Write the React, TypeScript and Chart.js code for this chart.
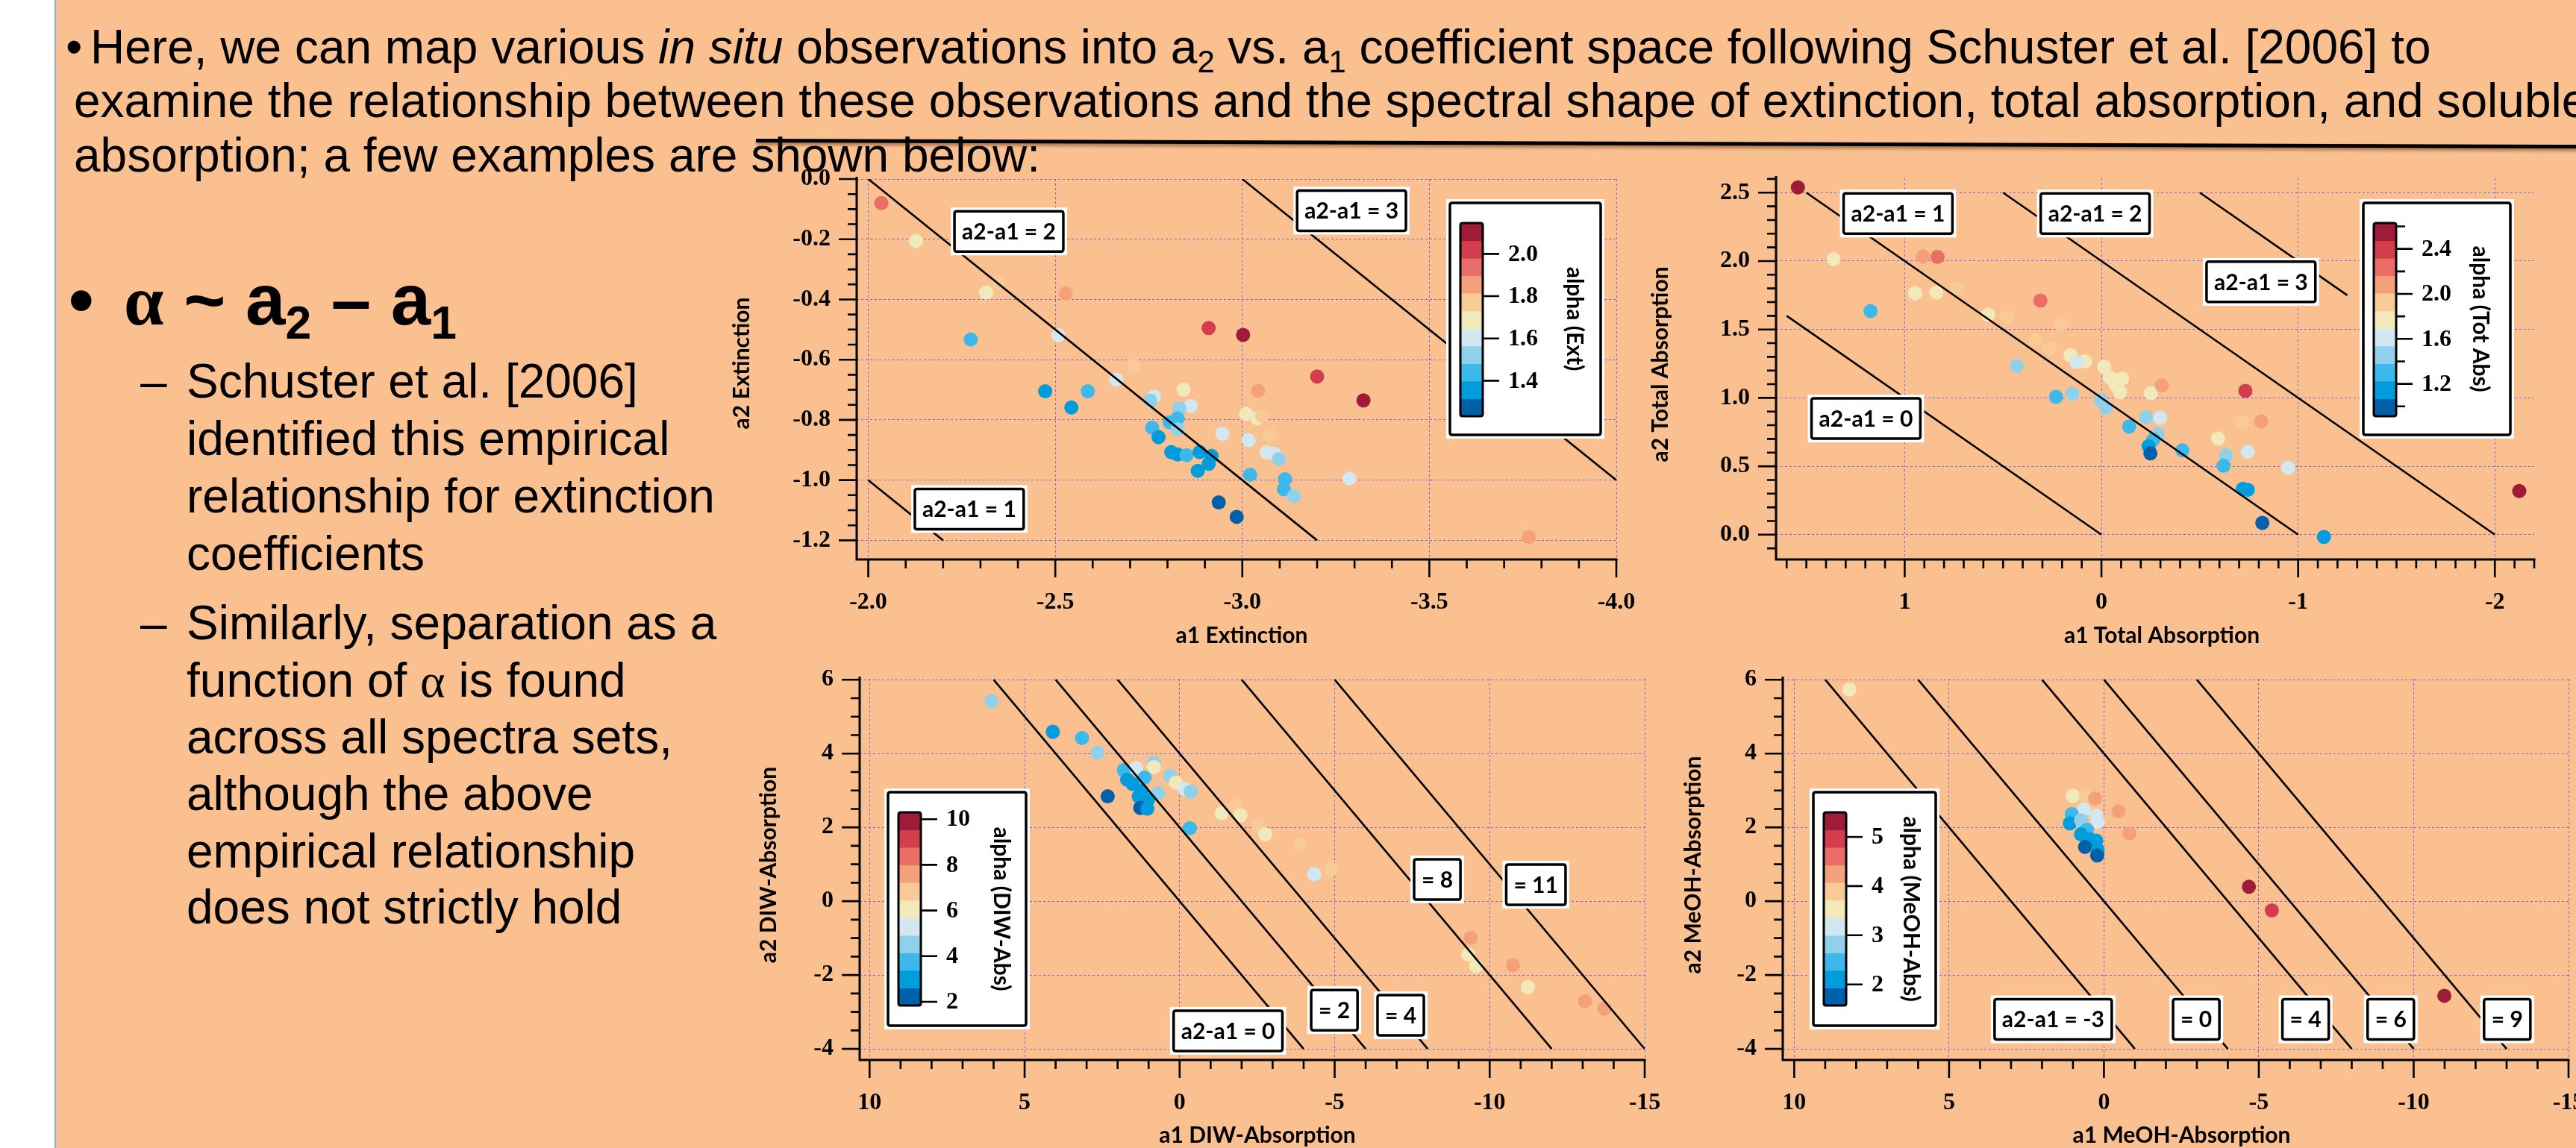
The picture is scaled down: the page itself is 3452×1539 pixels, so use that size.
import React, { useEffect, useRef } from "react";
import { Chart, registerables } from "chart.js";
Chart.register(...registerables);

// ---------------- colour map (11 discrete bands, low -> high) ----------------
const BAND_COLORS = ["#0060AA", "#009CDB", "#3DB8EB", "#8FD1EA", "#D2E7EF", "#F2E9BB", "#F8CB96", "#F4A07A", "#EA6D68", "#D43D4B", "#9E1C39"];

// ---------------- Extinction panel ----------------
const extA1 = [-2.035, -2.127, -2.348, -2.315, -2.528, -2.274, -2.508, -2.910, -3.002, -2.710, -2.663, -2.473, -2.587, -2.543, -3.200, -3.324, -3.042, -2.843, -2.764, -2.754, -2.862, -2.831, -2.827, -2.806, -2.759, -2.827, -2.776, -3.010, -3.040, -3.053, -2.947, -3.017, -3.074, -2.810, -2.827, -2.851, -2.886, -2.918, -2.910, -2.881, -3.065, -3.085, -3.098, -3.021, -3.114, -3.111, -3.138, -3.286, -2.937, -2.985, -3.766];
const extA2 = [-0.080, -0.206, -0.344, -0.377, -0.380, -0.533, -0.519, -0.495, -0.518, -0.620, -0.666, -0.705, -0.705, -0.759, -0.656, -0.735, -0.703, -0.700, -0.722, -0.736, -0.753, -0.761, -0.795, -0.808, -0.826, -0.831, -0.857, -0.780, -0.795, -0.787, -0.846, -0.867, -0.853, -0.907, -0.915, -0.917, -0.907, -0.920, -0.946, -0.969, -0.908, -0.912, -0.930, -0.982, -0.997, -1.030, -1.053, -0.995, -1.074, -1.122, -1.189];
const extAlpha = [1.94, 1.69, 1.77, 1.69, 1.86, 1.44, 1.61, 2.02, 2.10, 1.77, 1.61, 1.36, 1.44, 1.36, 2.02, 2.10, 1.86, 1.69, 1.61, 1.52, 1.61, 1.52, 1.44, 1.44, 1.44, 1.52, 1.36, 1.69, 1.69, 1.77, 1.61, 1.61, 1.77, 1.36, 1.36, 1.44, 1.36, 1.36, 1.36, 1.36, 1.61, 1.61, 1.52, 1.44, 1.44, 1.44, 1.52, 1.61, 1.27, 1.27, 1.86];
const extLineK = [1, 2, 3];
const extLineStart = [-2.0, -2.0, -3.0];
const extLineEnd = [-2.2, -3.2, -4.0];
const extLabelText = ["a2-a1 = 2", "a2-a1 = 3", "a2-a1 = 1"];
const extLabelA1 = [-2.376, -3.292, -2.27];
const extLabelA2 = [-0.174, -0.105, -1.096];
const extXTicks = [-2.0, -2.5, -3.0, -3.5, -4.0];
const extYTicks = [0.0, -0.2, -0.4, -0.6, -0.8, -1.0, -1.2];
const extCbTicks = [2.0, 1.8, 1.6, 1.4];
const extCbMinor: number[] = [];

// ---------------- Total absorption panel ----------------
const totA1 = [1.543, 1.362, 0.907, 0.833, 1.174, 0.947, 0.839, 0.738, 0.310, 0.575, 0.480, 0.206, 0.335, 0.264, 0.157, 0.083, 0.126, 0.430, -0.015, -0.043, -0.105, -0.071, -0.095, -0.252, -0.307, 0.231, 0.148, 0.003, -0.022, -0.227, -0.298, -0.141, -0.286, -0.264, -0.240, -0.249, -0.412, -0.732, -0.713, -0.812, -0.593, -0.633, -0.621, -0.744, -0.950, -0.719, -0.744, -0.818, -1.131, -2.124];
const totA2 = [2.538, 2.014, 2.034, 2.030, 1.634, 1.765, 1.770, 1.799, 1.711, 1.607, 1.589, 1.544, 1.424, 1.363, 1.313, 1.266, 1.261, 1.234, 1.227, 1.148, 1.141, 1.099, 1.042, 1.035, 1.092, 1.008, 1.031, 0.986, 0.929, 0.859, 0.854, 0.791, 0.735, 0.696, 0.646, 0.594, 0.617, 1.051, 0.821, 0.827, 0.703, 0.579, 0.504, 0.606, 0.488, 0.335, 0.328, 0.086, -0.016, 0.319];
const totAlpha = [2.55, 1.77, 2.08, 2.24, 1.30, 1.77, 1.77, 1.93, 2.24, 1.77, 1.93, 1.93, 1.93, 1.93, 1.77, 1.77, 1.61, 1.46, 1.77, 1.77, 1.77, 1.77, 1.77, 1.77, 2.08, 1.30, 1.46, 1.46, 1.46, 1.46, 1.61, 1.30, 1.46, 1.30, 1.15, 0.99, 1.30, 2.39, 1.93, 2.08, 1.77, 1.46, 1.30, 1.61, 1.61, 1.15, 1.15, 0.99, 1.15, 2.55];
const totLineK = [0, 1, 2, 3];
const totLineStart = [1.6, 1.5, 0.5, -0.5];
const totLineEnd = [0.0, -1.0, -2.0, -1.25];
const totLabelText = ["a2-a1 = 1", "a2-a1 = 2", "a2-a1 = 3", "a2-a1 = 0"];
const totLabelA1 = [1.034, 0.032, -0.811, 1.197];
const totLabelA2 = [2.347, 2.347, 1.848, 0.849];
const totXTicks = [1, 0, -1, -2];
const totYTicks = [0.0, 0.5, 1.0, 1.5, 2.0, 2.5];
const totCbTicks = [2.4, 2.0, 1.6, 1.2];
const totCbMinor = [2.6, 2.2, 1.8, 1.4, 1.0];

// ---------------- DIW absorption panel ----------------
const diwA1 = [6.07, 4.09, 3.15, 2.65, 1.80, 1.40, 0.83, 0.83, 1.13, 1.69, 1.52, 0.31, 0.12, -0.17, -0.36, 0.69, 1.23, 1.32, 1.02, 2.32, 1.27, 1.04, -0.33, -1.36, -1.80, -1.96, -2.53, -2.76, -3.88, -4.88, -4.34, -9.39, -9.31, -9.56, -10.75, -11.23, -13.07, -13.70];
const diwA2 = [5.42, 4.59, 4.42, 4.03, 3.55, 3.61, 3.74, 3.63, 3.35, 3.29, 3.18, 3.40, 3.21, 3.04, 2.97, 2.93, 3.00, 2.84, 2.74, 2.84, 2.53, 2.51, 1.98, 2.38, 2.59, 2.32, 2.06, 1.81, 1.54, 0.87, 0.73, -0.99, -1.44, -1.76, -1.73, -2.33, -2.71, -2.91];
const diwAlpha = [4.53, 2.99, 3.76, 4.53, 3.76, 5.30, 4.53, 6.07, 3.76, 2.99, 2.99, 4.53, 6.07, 5.30, 4.53, 4.53, 2.99, 2.99, 2.99, 2.22, 2.22, 2.99, 3.76, 6.07, 6.84, 6.07, 6.84, 6.07, 6.84, 6.84, 5.30, 7.61, 6.07, 6.07, 7.61, 6.07, 7.61, 7.61];
const diwLineK = [0, 2, 4, 8, 11];
const diwLineStart = [6, 4, 2, -2, -5];
const diwLineEnd = [-4, -6, -8, -12, -15];
const diwLabelText = ["a2-a1 = 0", "= 2", "= 4", "= 8", "= 11"];
const diwLabelA1 = [-1.56, -4.99, -7.13, -8.31, -11.49];
const diwLabelA2 = [-3.51, -2.95, -3.09, 0.59, 0.45];
const diwXTicks = [10, 5, 0, -5, -10, -15];
const diwYTicks = [6, 4, 2, 0, -2, -4];
const diwCbTicks = [10, 8, 6, 4, 2];
const diwCbMinor: number[] = [];

// ---------------- MeOH absorption panel ----------------
const meoA1 = [8.22, 1.00, 0.59, 0.29, -0.47, -0.82, 0.65, 0.25, 0.20, 1.04, 1.10, 0.74, 0.55, 0.74, 0.45, 0.25, 0.61, 0.20, 0.22, -4.68, -5.42, -10.99];
const meoA2 = [5.73, 2.85, 2.87, 2.78, 2.44, 1.83, 2.49, 2.32, 2.15, 2.36, 2.11, 2.19, 1.94, 1.81, 1.68, 1.64, 1.47, 1.38, 1.24, 0.39, -0.25, -2.56];
const meoAlpha = [3.54, 3.54, 3.89, 4.25, 4.25, 4.25, 3.18, 3.18, 3.18, 2.46, 2.11, 2.82, 2.46, 2.11, 2.11, 2.11, 1.75, 2.11, 1.75, 5.32, 4.96, 5.32];
const meoLineK = [-3, 0, 4, 6, 9];
const meoLineStart = [9, 6, 2, 0, -3];
const meoLineEnd = [-1, -4, -8, -10, -13];
const meoLabelText = ["a2-a1 = -3", "= 0", "= 4", "= 6", "= 9"];
const meoLabelA1 = [1.64, -2.98, -6.51, -9.26, -13.02];
const meoLabelA2 = [-3.2, -3.2, -3.2, -3.2, -3.2];
const meoXTicks = [10, 5, 0, -5, -10, -15];
const meoYTicks = [6, 4, 2, 0, -2, -4];
const meoCbTicks = [5, 4, 3, 2];
const meoCbMinor: number[] = [];

// ---------------- helpers ----------------
const TICK_FONT = '"Liberation Serif", "Times New Roman", serif';
const TITLE_FONT = 'Lato, "Open Sans", sans-serif';
const SLIDE_FONT = 'Arial, "Liberation Sans", sans-serif';
const TICK_SIZE = 32;

function colorFor(a: number, min: number, max: number) {
  let i = Math.floor(((a - min) / (max - min)) * BAND_COLORS.length);
  if (i < 0) i = 0;
  if (i > BAND_COLORS.length - 1) i = BAND_COLORS.length - 1;
  return BAND_COLORS[i];
}

function stepsIn(min: number, max: number, step: number) {
  const out: number[] = [];
  const i0 = Math.ceil(min / step - 1e-6);
  const i1 = Math.floor(max / step + 1e-6);
  for (let i = i0; i <= i1; i++) out.push(i * step);
  return out;
}

interface PanelCfg {
  L: number; T: number; R: number; B: number;
  xMin: number; xMax: number; yMin: number; yMax: number;
  xMajor: number[]; xMinorStep: number; xDec: number;
  yMajor: number[]; yMinorStep: number; yDec: number;
  xTitle: string; yTitle: string; xTitleDx: number; xTitleDy: number; yTitleDx: number; yTitleDy: number;
  a1: number[]; a2: number[]; alpha: number[];
  cbMin: number; cbMax: number; cbTicks: number[]; cbMinor: number[]; cbDec: number; cbTitle: string;
  cb: { dx: number; dy: number; w: number; h: number; titleDx: number };
  lineK: number[]; lineS: number[]; lineE: number[];
  labT: string[]; labA1: number[]; labA2: number[];
}

const PAD_L = 200, PAD_T = 30, PAD_R = 40, PAD_B = 140;

function roundRect(ctx: CanvasRenderingContext2D, x: number, y: number, w: number, h: number, r: number) {
  ctx.beginPath();
  ctx.moveTo(x + r, y);
  ctx.lineTo(x + w - r, y);
  ctx.quadraticCurveTo(x + w, y, x + w, y + r);
  ctx.lineTo(x + w, y + h - r);
  ctx.quadraticCurveTo(x + w, y + h, x + w - r, y + h);
  ctx.lineTo(x + r, y + h);
  ctx.quadraticCurveTo(x, y + h, x, y + h - r);
  ctx.lineTo(x, y + r);
  ctx.quadraticCurveTo(x, y, x + r, y);
  ctx.closePath();
}

function drawPanel(chart: any, c: PanelCfg) {
  const ctx = chart.ctx as CanvasRenderingContext2D;
  const xs = chart.scales.x;
  const ys = chart.scales.y;
  const { left, right, top, bottom } = chart.chartArea;
  const near = (a: number, b: number) => Math.abs(a - b) < 1e-6;
  ctx.save();
  ctx.lineCap = "butt";
  ctx.strokeStyle = "#000";

  // axes
  ctx.lineWidth = 3;
  ctx.beginPath();
  ctx.moveTo(left, top - 3);
  ctx.lineTo(left, bottom);
  ctx.lineTo(right + 1.5, bottom);
  ctx.stroke();

  // x ticks
  ctx.lineWidth = 2.6;
  ctx.beginPath();
  for (const v of c.xMajor) {
    const p = xs.getPixelForValue(v);
    ctx.moveTo(p, bottom); ctx.lineTo(p, bottom + 24);
  }
  for (const v of stepsIn(c.xMin, c.xMax, c.xMinorStep)) {
    if (c.xMajor.some((m) => near(m, v))) continue;
    const p = xs.getPixelForValue(v);
    if (p < left + 6 || p > right + 0.5) continue;
    ctx.moveTo(p, bottom); ctx.lineTo(p, bottom + 12);
  }
  // y ticks
  for (const v of c.yMajor) {
    const p = ys.getPixelForValue(v);
    ctx.moveTo(left, p); ctx.lineTo(left - 24, p);
  }
  for (const v of stepsIn(c.yMin, c.yMax, c.yMinorStep)) {
    if (c.yMajor.some((m) => near(m, v))) continue;
    const p = ys.getPixelForValue(v);
    if (p > bottom - 6 || p < top - 0.5) continue;
    ctx.moveTo(left, p); ctx.lineTo(left - 12, p);
  }
  ctx.stroke();

  // axis titles
  ctx.fillStyle = "#000";
  ctx.font = `bold 30px ${TITLE_FONT}`;
  ctx.textAlign = "center";
  ctx.textBaseline = "middle";
  ctx.fillText(c.xTitle, (left + right) / 2 + c.xTitleDx, bottom + c.xTitleDy);
  ctx.save();
  ctx.translate(left - c.yTitleDx, (top + bottom) / 2 + c.yTitleDy);
  ctx.rotate(-Math.PI / 2);
  ctx.fillText(c.yTitle, 0, 0);
  ctx.restore();

  // annotation boxes
  for (let i = 0; i < c.labT.length; i++) {
    const cx = xs.getPixelForValue(c.labA1[i]);
    const cy = ys.getPixelForValue(c.labA2[i]);
    ctx.font = `bold 30px ${TITLE_FONT}`;
    const tw = ctx.measureText(c.labT[i]).width;
    const w = tw + 30, h = 64;
    ctx.fillStyle = "#fff";
    ctx.fillRect(cx - w / 2, cy - h / 2, w, h);
    ctx.lineWidth = 3.5;
    roundRect(ctx, cx - w / 2 + 5, cy - h / 2 + 5, w - 10, h - 10, 3);
    ctx.stroke();
    ctx.fillStyle = "#000";
    ctx.textAlign = "center";
    ctx.textBaseline = "middle";
    ctx.fillText(c.labT[i], cx, cy + 1);
  }

  // colour bar legend
  const bx = left + c.cb.dx, by = top + c.cb.dy;
  ctx.fillStyle = "#fff";
  ctx.fillRect(bx, by, c.cb.w, c.cb.h);
  ctx.lineWidth = 3.5;
  roundRect(ctx, bx + 5, by + 5, c.cb.w - 10, c.cb.h - 10, 3);
  ctx.stroke();
  const x0 = bx + 19, y0 = by + 32, bw = 30, bh = 259;
  const n = BAND_COLORS.length;
  for (let i = 0; i < n; i++) {
    ctx.fillStyle = BAND_COLORS[i];
    const yb = y0 + bh - ((i + 1) * bh) / n;
    ctx.fillRect(x0, yb, bw, bh / n + 0.5);
  }
  ctx.lineWidth = 3;
  roundRect(ctx, x0, y0, bw, bh, 3);
  ctx.stroke();
  const vy = (v: number) => y0 + bh - ((v - c.cbMin) / (c.cbMax - c.cbMin)) * bh;
  ctx.lineWidth = 2.6;
  ctx.beginPath();
  for (const v of c.cbTicks) { ctx.moveTo(x0 + bw, vy(v)); ctx.lineTo(x0 + bw + 22, vy(v)); }
  for (const v of c.cbMinor) { ctx.moveTo(x0 + bw, vy(v)); ctx.lineTo(x0 + bw + 12, vy(v)); }
  ctx.stroke();
  ctx.fillStyle = "#000";
  ctx.font = `bold ${TICK_SIZE}px ${TICK_FONT}`;
  ctx.textAlign = "left";
  ctx.textBaseline = "middle";
  for (const v of c.cbTicks) ctx.fillText(v.toFixed(c.cbDec), x0 + bw + 34, vy(v) + 1);
  ctx.save();
  ctx.translate(bx + c.cb.titleDx, by + c.cb.h / 2);
  ctx.rotate(Math.PI / 2);
  ctx.font = `bold 30px ${TITLE_FONT}`;
  ctx.textAlign = "center";
  ctx.textBaseline = "middle";
  ctx.fillText(c.cbTitle, 0, 0);
  ctx.restore();

  ctx.restore();
}

function Panel({ c }: { c: PanelCfg }) {
  const ref = useRef<HTMLCanvasElement>(null);
  const w = c.R - c.L + PAD_L + PAD_R;
  const h = c.B - c.T + PAD_T + PAD_B;
  useEffect(() => {
    const canvas = ref.current;
    if (!canvas) return;
    const lineSets = c.lineK.map((k, i) => ({
      type: "scatter" as const,
      data: [
        { x: c.lineS[i], y: c.lineS[i] + k },
        { x: c.lineE[i], y: c.lineE[i] + k },
      ],
      showLine: true,
      borderColor: "#000",
      borderWidth: 2.6,
      pointRadius: 0,
      order: 0,
    }));
    const points = {
      type: "scatter" as const,
      data: c.a1.map((x, i) => ({ x, y: c.a2[i] })),
      pointRadius: 9.5,
      pointBorderWidth: 0,
      pointBackgroundColor: c.alpha.map((a) => colorFor(a, c.cbMin, c.cbMax)),
      pointBorderColor: "rgba(0,0,0,0)",
      order: 1,
    };
    const tickFont = { family: TICK_FONT, size: TICK_SIZE, weight: "bold" as const };
    const grid = { color: "rgba(95,95,240,0.9)", lineWidth: 1, drawTicks: false };
    const chart = new Chart(canvas, {
      type: "scatter",
      data: { datasets: [...lineSets, points] as any },
      options: {
        animation: false,
        responsive: false,
        devicePixelRatio: 1,
        events: [],
        layout: { padding: { top: PAD_T, right: PAD_R, left: 0, bottom: 0 } },
        plugins: { legend: { display: false }, tooltip: { enabled: false }, title: { display: false } },
        scales: {
          x: {
            type: "linear",
            reverse: true,
            min: c.xMin,
            max: c.xMax,
            afterBuildTicks: (s: any) => { s.ticks = c.xMajor.map((v) => ({ value: v })); },
            afterFit: (s: any) => { s.height = PAD_B; s.paddingLeft = 0; s.paddingRight = 0; },
            ticks: { autoSkip: false, maxRotation: 0, minRotation: 0, padding: 39, color: "#000", font: tickFont, callback: (v: any) => Number(v).toFixed(c.xDec) },
            grid,
            border: { display: false, dash: [3, 3] },
          },
          y: {
            type: "linear",
            min: c.yMin,
            max: c.yMax,
            afterBuildTicks: (s: any) => { s.ticks = c.yMajor.map((v) => ({ value: v })); },
            afterFit: (s: any) => { s.width = PAD_L; s.paddingTop = 0; s.paddingBottom = 0; },
            ticks: { autoSkip: false, padding: 35, color: "#000", font: tickFont, callback: (v: any) => Number(v).toFixed(c.yDec) },
            grid,
            border: { display: false, dash: [3, 3] },
          },
        },
      },
      plugins: [{ id: "panelDecor", afterDatasetsDraw: (ch: any) => drawPanel(ch, c) }],
    } as any);
    return () => chart.destroy();
  }, []);
  return (
    <div style={{ position: "absolute", left: c.L - PAD_L, top: c.T - PAD_T, width: w, height: h }}>
      <canvas ref={ref} width={w} height={h} style={{ width: w, height: h, display: "block" }} />
    </div>
  );
}

const panels: PanelCfg[] = [
  {
    L: 1148, T: 240, R: 2166, B: 750,
    xMin: -4.0, xMax: -1.969, yMin: -1.2635, yMax: 0.0,
    xMajor: extXTicks, xMinorStep: 0.1, xDec: 1,
    yMajor: extYTicks, yMinorStep: 0.05, yDec: 1,
    xTitle: "a1 Extinction", yTitle: "a2 Extinction", xTitleDx: 7, xTitleDy: 102, yTitleDx: 154, yTitleDy: -8,
    a1: extA1, a2: extA2, alpha: extAlpha,
    cbMin: 1.232, cbMax: 2.146, cbTicks: extCbTicks, cbMinor: extCbMinor, cbDec: 1, cbTitle: "alpha (Ext)",
    cb: { dx: 790, dy: 27, w: 212, h: 321, titleDx: 172 },
    lineK: extLineK, lineS: extLineStart, lineE: extLineEnd,
    labT: extLabelText, labA1: extLabelA1, labA2: extLabelA2,
  },
  {
    L: 2380, T: 239, R: 3396, B: 750,
    xMin: -2.2, xMax: 1.654, yMin: -0.181, yMax: 2.605,
    xMajor: totXTicks, xMinorStep: 0.1, xDec: 0,
    yMajor: totYTicks, yMinorStep: 0.1, yDec: 1,
    xTitle: "a1 Total Absorption", yTitle: "a2 Total Absorption", xTitleDx: 9, xTitleDy: 102, yTitleDx: 155, yTitleDy: -6,
    a1: totA1, a2: totA2, alpha: totAlpha,
    cbMin: 0.912, cbMax: 2.63, cbTicks: totCbTicks, cbMinor: totCbMinor, cbDec: 1, cbTitle: "alpha (Tot Abs)",
    cb: { dx: 782, dy: 28, w: 207, h: 321, titleDx: 162 },
    lineK: totLineK, lineS: totLineStart, lineE: totLineEnd,
    labT: totLabelText, labA1: totLabelA1, labA2: totLabelA2,
  },
  {
    L: 1152, T: 910, R: 2204, B: 1421,
    xMin: -15, xMax: 10.32, yMin: -4.30, yMax: 6.024,
    xMajor: diwXTicks, xMinorStep: 1, xDec: 0,
    yMajor: diwYTicks, yMinorStep: 0.5, yDec: 0,
    xTitle: "a1 DIW-Absorption", yTitle: "a2 DIW-Absorption", xTitleDx: 7, xTitleDy: 101, yTitleDx: 122, yTitleDy: -6,
    a1: diwA1, a2: diwA2, alpha: diwAlpha,
    cbMin: 1.836, cbMax: 10.3, cbTicks: diwCbTicks, cbMinor: diwCbMinor, cbDec: 0, cbTitle: "alpha (DIW-Abs)",
    cb: { dx: 33, dy: 147, w: 195, h: 323, titleDx: 157 },
    lineK: diwLineK, lineS: diwLineStart, lineE: diwLineEnd,
    labT: diwLabelText, labA1: diwLabelA1, labA2: diwLabelA2,
  },
  {
    L: 2389, T: 910, R: 3442, B: 1421,
    xMin: -15, xMax: 10.37, yMin: -4.30, yMax: 6.024,
    xMajor: meoXTicks, xMinorStep: 1, xDec: 0,
    yMajor: meoYTicks, yMinorStep: 0.5, yDec: 0,
    xTitle: "a1 MeOH-Absorption", yTitle: "a2 MeOH-Absorption", xTitleDx: 8, xTitleDy: 101, yTitleDx: 120, yTitleDy: -6,
    a1: meoA1, a2: meoA2, alpha: meoAlpha,
    cbMin: 1.571, cbMax: 5.5, cbTicks: meoCbTicks, cbMinor: meoCbMinor, cbDec: 0, cbTitle: "alpha (MeOH-Abs)",
    cb: { dx: 36, dy: 147, w: 174, h: 323, titleDx: 136 },
    lineK: meoLineK, lineS: meoLineStart, lineE: meoLineEnd,
    labT: meoLabelText, labA1: meoLabelA1, labA2: meoLabelA2,
  },
];

// ---------------- slide text ----------------
function Line({ x, base, size, bold, children }: { x: number; base: number; size: number; bold?: boolean; children: React.ReactNode }) {
  return (
    <div
      style={{
        position: "absolute",
        left: x,
        top: base - 0.8465 * size,
        fontSize: size,
        lineHeight: 1,
        fontWeight: bold ? "bold" : "normal",
        whiteSpace: "nowrap",
        fontFamily: SLIDE_FONT,
        color: "#000",
      }}
    >
      {children}
    </div>
  );
}

const Sub = ({ t }: { t: string }) => (
  <span style={{ fontSize: "0.65em", verticalAlign: "-0.3em", lineHeight: 0 }}>{t}</span>
);

const TOP_SIZE = 64;
const BODY_SIZE = 64;
const bodyLines1 = ["Schuster et al. [2006]", "identified this empirical", "relationship for extinction", "coefficients"];
const bodyBase1 = [533, 610, 687, 764];
const bodyBase2 = [857, 934, 1010, 1086, 1163, 1238];

export default function App() {
  return (
    <div style={{ position: "fixed", left: 0, top: 0, width: 3452, height: 1539, overflow: "hidden", background: "#fff" }}>
      <div style={{ position: "absolute", left: 73, top: 0, width: 3452 - 73, height: 1539, background: "#FAC090", borderLeft: "2px solid #94AACB" }} />

      {panels.map((c, i) => (
        <Panel key={i} c={c} />
      ))}

      <Line x={88} base={85} size={TOP_SIZE}>•</Line>
      <Line x={121} base={85} size={TOP_SIZE}>
        Here, we can map various <i>in situ</i> observations into a<Sub t="2" /> vs. a<Sub t="1" /> coefficient space following Schuster et al. [2006] to
      </Line>
      <Line x={99} base={157} size={TOP_SIZE}>
        examine the relationship between these observations and the spectral shape of extinction, total absorption, and soluble
      </Line>
      <Line x={99} base={230} size={TOP_SIZE}>
        absorption; a few examples are shown below:
      </Line>
      <div
        style={{
          position: "absolute",
          left: 1013,
          top: 186,
          width: 2460,
          height: 5,
          background: "#000",
          transform: "rotate(0.19deg)",
          transformOrigin: "left center",
          boxShadow: "1px 3px 4px rgba(80,40,10,0.55)",
        }}
      />

      <Line x={92} base={435} size={96} bold>•</Line>
      <Line x={166} base={435} size={96} bold>
        <span style={{ fontFamily: '"Liberation Serif", serif' }}>α</span> ~ a<Sub t="2" /> – a<Sub t="1" />
      </Line>

      <Line x={188} base={bodyBase1[0]} size={BODY_SIZE}>–</Line>
      {bodyLines1.map((t, i) => (
        <Line key={"b1" + i} x={250} base={bodyBase1[i]} size={BODY_SIZE}>{t}</Line>
      ))}
      <Line x={188} base={bodyBase2[0]} size={BODY_SIZE}>–</Line>
      <Line x={250} base={bodyBase2[0]} size={BODY_SIZE}>Similarly, separation as a</Line>
      <Line x={250} base={bodyBase2[1]} size={BODY_SIZE}>
        function of <span style={{ fontFamily: '"Liberation Serif", serif' }}>α</span> is found
      </Line>
      <Line x={250} base={bodyBase2[2]} size={BODY_SIZE}>across all spectra sets,</Line>
      <Line x={250} base={bodyBase2[3]} size={BODY_SIZE}>although the above</Line>
      <Line x={250} base={bodyBase2[4]} size={BODY_SIZE}>empirical relationship</Line>
      <Line x={250} base={bodyBase2[5]} size={BODY_SIZE}>does not strictly hold</Line>
    </div>
  );
}
